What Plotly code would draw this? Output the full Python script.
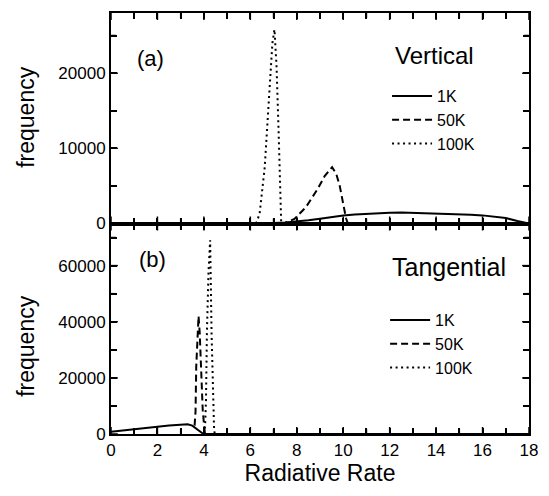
import plotly.graph_objects as go
from plotly.subplots import make_subplots

# ---- data ----
series_names = ["1K", "50K", "100K"]

# Panel (a) Vertical
v_1k_x = [0, 6.5, 7.0, 7.5, 8.0, 8.5, 9.0, 9.5, 10.0, 10.5, 11.0, 11.5, 12.0, 12.5,
          13.0, 13.5, 14.0, 14.5, 15.0, 15.5, 16.0, 16.5, 17.0, 17.5, 18.0]
v_1k_y = [0, 0, 60, 130, 230, 420, 640, 860, 1050, 1200, 1300, 1380, 1440, 1450,
          1420, 1370, 1320, 1270, 1230, 1180, 1080, 940, 720, 330, 0]
v_50k_x = [7.3, 7.5, 7.9, 8.4, 8.9, 9.2, 9.52, 9.7, 9.85, 10.0, 10.12, 10.2]
v_50k_y = [0, 100, 600, 2200, 4600, 6300, 7500, 6600, 5000, 2600, 700, 0]
v_100k_x = [6.25, 6.4, 6.62, 6.83, 6.95, 7.04, 7.13, 7.22, 7.28, 7.33]
v_100k_y = [0, 1300, 7500, 18600, 24000, 25800, 20800, 12000, 3000, 0]

# Panel (b) Tangential
t_1k_x = [0, 0.5, 1, 1.5, 2, 2.5, 3, 3.3, 3.5, 3.75, 3.95, 4.05, 18]
t_1k_y = [800, 1300, 1800, 2200, 2600, 3000, 3400, 3500, 3000, 1500, 200, 0, 0]
t_50k_x = [3.6, 3.64, 3.67, 3.72, 3.77, 3.82, 3.88, 3.95, 4.02, 4.05]
t_50k_y = [3000, 8000, 24000, 36000, 42000, 36000, 24000, 8500, 2000, 0]
t_100k_x = [4.0, 4.05, 4.09, 4.13, 4.2, 4.27, 4.33, 4.4, 4.44, 4.47]
t_100k_y = [0, 2600, 12000, 36000, 58000, 69000, 36000, 12000, 1400, 0]

# tick positions (major + minor) and their labels ("" for minor ticks)
x_tickvals = list(range(0, 19))
x_ticktext = ["0", "", "2", "", "4", "", "6", "", "8", "", "10", "", "12", "", "14", "", "16", "", "18"]
top_y_tickvals = [0, 5000, 10000, 15000, 20000, 25000]
top_y_ticktext = ["0", "", "10000", "", "20000", ""]
bot_y_tickvals = [0, 10000, 20000, 30000, 40000, 50000, 60000, 70000]
bot_y_ticktext = ["0", "", "20000", "", "40000", "", "60000", ""]

X_RANGE = [0, 18]
TOP_Y_RANGE = [0, 28000]
BOT_Y_RANGE = [0, 75000]

FONT = "Liberation Sans, Arial, Helvetica, sans-serif"
dashes = ["solid", "7px,4px", "2px,3.5px"]

W, H = 549, 496
L, R, T, B = 111, 11, 13, 62
pw, ph = W - L - R, H - T - B
panel_h = ph / 2

fig = make_subplots(rows=2, cols=1, shared_xaxes=True, vertical_spacing=0)

top_data = [(v_1k_x, v_1k_y), (v_50k_x, v_50k_y), (v_100k_x, v_100k_y)]
bot_data = [(t_1k_x, t_1k_y), (t_50k_x, t_50k_y), (t_100k_x, t_100k_y)]

for name, (xs, ys), dash in zip(series_names, top_data, dashes):
    fig.add_trace(go.Scatter(x=xs, y=ys, mode="lines", name=name,
                             line=dict(color="black", width=2, dash=dash),
                             legend="legend"), row=1, col=1)
for name, (xs, ys), dash in zip(series_names, bot_data, dashes):
    fig.add_trace(go.Scatter(x=xs, y=ys, mode="lines", name=name,
                             line=dict(color="black", width=2, dash=dash),
                             legend="legend2"), row=2, col=1)


# inside tick marks on all four sides of each panel, built from the tick arrays
def tick_segments(yr, yvals, ytexts):
    xs, ys = [], []
    xspan = X_RANGE[1] - X_RANGE[0]
    yspan = yr[1] - yr[0]
    for v, lab in zip(x_tickvals, x_ticktext):
        ln = (7 if lab else 5) / panel_h * yspan
        xs += [v, v, None, v, v, None]
        ys += [yr[0], yr[0] + ln, None, yr[1], yr[1] - ln, None]
    for v, lab in zip(yvals, ytexts):
        ln = (7 if lab else 5) / pw * xspan
        xs += [X_RANGE[0], X_RANGE[0] + ln, None, X_RANGE[1], X_RANGE[1] - ln, None]
        ys += [v, v, None, v, v, None]
    return xs, ys


for row, yr, yvals, ytexts, lg in ((1, TOP_Y_RANGE, top_y_tickvals, top_y_ticktext, "legend"),
                                   (2, BOT_Y_RANGE, bot_y_tickvals, bot_y_ticktext, "legend2")):
    sx, sy = tick_segments(yr, yvals, ytexts)
    fig.add_trace(go.Scatter(x=sx, y=sy, mode="lines", line=dict(color="black", width=1.5),
                             showlegend=False, hoverinfo="skip", legend=lg),
                  row=row, col=1)

base = dict(showline=True, linecolor="black", linewidth=2, ticks="inside", ticklen=6,
            tickwidth=1.5, tickcolor="black", mirror="allticks", tickmode="array")

fig.update_xaxes(range=X_RANGE, tickvals=x_tickvals, ticktext=x_ticktext,
                 showticklabels=False, row=1, col=1, **base)
fig.update_xaxes(range=X_RANGE, tickvals=x_tickvals, ticktext=x_ticktext,
                 title=dict(text="Radiative Rate", font=dict(family=FONT, size=23, color="black"),
                            standoff=3),
                 row=2, col=1, **base)

fig.update_yaxes(range=TOP_Y_RANGE, tickvals=top_y_tickvals, ticktext=top_y_ticktext,
                 ticksuffix=" ", domain=[0.5, 1], row=1, col=1, **base)
fig.update_yaxes(range=BOT_Y_RANGE, tickvals=bot_y_tickvals, ticktext=bot_y_ticktext,
                 ticksuffix=" ", domain=[0, 0.5], row=2, col=1, **base)


def px(xp):
    return (xp - L) / pw


def py(yp):
    return (H - B - yp) / ph


ann_font = dict(family=FONT, color="black")
annotations = [
    dict(text="(a)", x=px(151), y=py(58), xanchor="center", yanchor="middle",
         font=dict(size=22, **ann_font)),
    dict(text="Vertical", x=px(399), y=py(55), xanchor="left", yanchor="middle",
         font=dict(size=24, **ann_font)),
    dict(text="(b)", x=px(153), y=py(259), xanchor="center", yanchor="middle",
         font=dict(size=22, **ann_font)),
    dict(text="Tangential", x=px(396), y=py(267), xanchor="left", yanchor="middle",
         font=dict(size=25, **ann_font)),
    dict(text="frequency", x=px(24), y=py(117), xanchor="center", yanchor="middle",
         textangle=-90, font=dict(size=23, **ann_font)),
    dict(text="frequency", x=px(24), y=py(346), xanchor="center", yanchor="middle",
         textangle=-90, font=dict(size=23, **ann_font)),
]
for a in annotations:
    a.update(xref="paper", yref="paper", showarrow=False)

legend_common = dict(bgcolor="rgba(0,0,0,0)", borderwidth=0, itemwidth=40,
                     font=dict(family=FONT, size=16, color="black"),
                     xanchor="left", yanchor="top", tracegroupgap=0, itemclick=False)

fig.update_layout(
    width=W, height=H,
    margin=dict(l=L, r=R, t=T, b=B),
    paper_bgcolor="white", plot_bgcolor="white",
    font=dict(family=FONT, size=17, color="black"),
    showlegend=True,
    legend=dict(x=px(393), y=py(79), **legend_common),
    legend2=dict(x=px(391), y=py(303), **legend_common),
    annotations=annotations,
)

fig.write_html("out.html", config={"displayModeBar": False},
               post_script="document.body.style.margin='0px';")
